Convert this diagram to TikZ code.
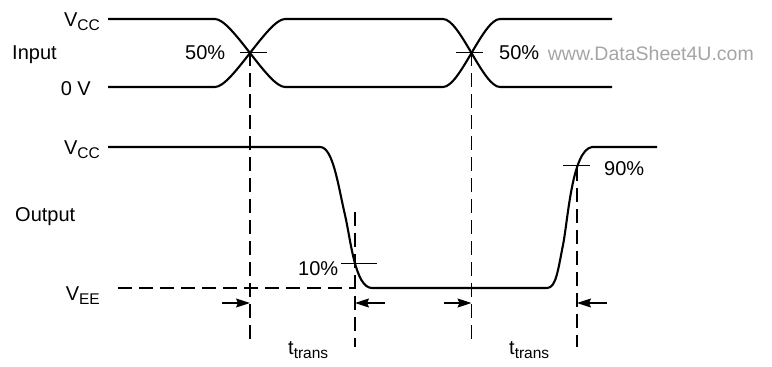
\documentclass[tikz,border=0pt]{standalone}
\usepackage{fontspec}
\setmainfont{Liberation Sans}
\usetikzlibrary{arrows.meta}
\definecolor{wmgray}{RGB}{165,165,165}
\newcommand{\mysub}[1]{\raisebox{-4.5pt}{\fontsize{15.5}{16}\selectfont #1}}
\begin{document}
\begin{tikzpicture}[x=1pt,y=-1pt,
  wave/.style={line width=2.1pt, line join=round},
  guide/.style={line width=1.2pt, dash pattern=on 14pt off 7pt},
  tickmark/.style={line width=1pt},
  dim/.style={line width=1.2pt,-{Stealth[length=14pt,width=9pt,inset=2pt]}},
  txt/.style={inner sep=0pt, font=\fontsize{20}{24}\selectfont},
]
\useasboundingbox (0,0) rectangle (772,367);

% labels
\node[txt, anchor=base east] (vccin) at (100,26) {V\mysub{CC}};
\node[txt, anchor=base west] (input) at (12,59) {Input};
\node[txt, anchor=base east] (zerov) at (91,95) {0 V};
\node[txt, anchor=base east, text=wmgray, font=\fontsize{19.5}{24}\selectfont] (wm) at (754,60) {www.DataSheet4U.com};
\node[txt, anchor=base west] (p50a) at (185,59) {50\%};
\node[txt, anchor=base west] (p50b) at (499,59) {50\%};
\node[txt, anchor=base east] (vccout) at (100,154) {V\mysub{CC}};
\node[txt, anchor=base west] (output) at (15,221) {Output};
\node[txt, anchor=base east] (vee) at (100,300) {V\mysub{EE}};
\node[txt, anchor=base west] (p10) at (298,275) {10\%};
\node[txt, anchor=base west] (p90) at (604,175) {90\%};
\node[txt, anchor=base west] (tt1) at (288,354) {t\mysub{trans}};
\node[txt, anchor=base west] (tt2) at (509,354) {t\mysub{trans}};

% key coordinates
\coordinate (x1) at (250,52);
\coordinate (x2) at (471.5,52);
\coordinate (x1b) at (250,340);
\coordinate (x2b) at (471.5,340);
\coordinate (f10) at (355,212);
\coordinate (f10b) at (355,347);
\coordinate (r90) at (577,167);
\coordinate (r90b) at (577,347);
\coordinate (veeL) at (118,288);
\coordinate (veeR) at (355,288);
\coordinate (a1s) at (222,303); \coordinate (a1e) at (250,303);
\coordinate (a2s) at (385,303); \coordinate (a2e) at (355,303);
\coordinate (a3s) at (444,303); \coordinate (a3e) at (471.5,303);
\coordinate (a4s) at (607,303); \coordinate (a4e) at (577,303);

% input waveforms
\draw[wave] (108,19) -- (215,19) .. controls (232,19) and (268,87) .. (285,87)
  -- (443,87) .. controls (460,87) and (483,19) .. (500,19) -- (612,19);
\draw[wave] (108,87) -- (215,87) .. controls (232,87) and (268,19) .. (285,19)
  -- (443,19) .. controls (460,19) and (483,87) .. (500,87) -- (612,87);

% output waveform
\draw[wave] (108,147) -- (320,147) .. controls (333,147) and (338,185) .. (345,215)
  .. controls (350.6,239) and (355,288) .. (372,288) -- (547,288)
  .. controls (556,288) and (558,270) .. (563,245)
  .. controls (568,220) and (572,150) .. (592,147) -- (657,147);

% ticks
\draw[tickmark] (240,52) -- (267,52);
\draw[tickmark] (456,52) -- (483,52);
\draw[tickmark] (341,263) -- (377,263);
\draw[tickmark] (563,165) -- (590,165);

% guides
\draw[guide] (x1) -- (x1b);
\draw[guide] (x2) -- (x2b);
\draw[guide] (f10) -- (f10b);
\draw[guide] (r90) -- (r90b);
\draw[guide] (veeL) -- (veeR);

% dimension arrows
\draw[dim] (a1s) -- (a1e);
\draw[dim] (a2s) -- (a2e);
\draw[dim] (a3s) -- (a3e);
\draw[dim] (a4s) -- (a4e);
\end{tikzpicture}
\end{document}
